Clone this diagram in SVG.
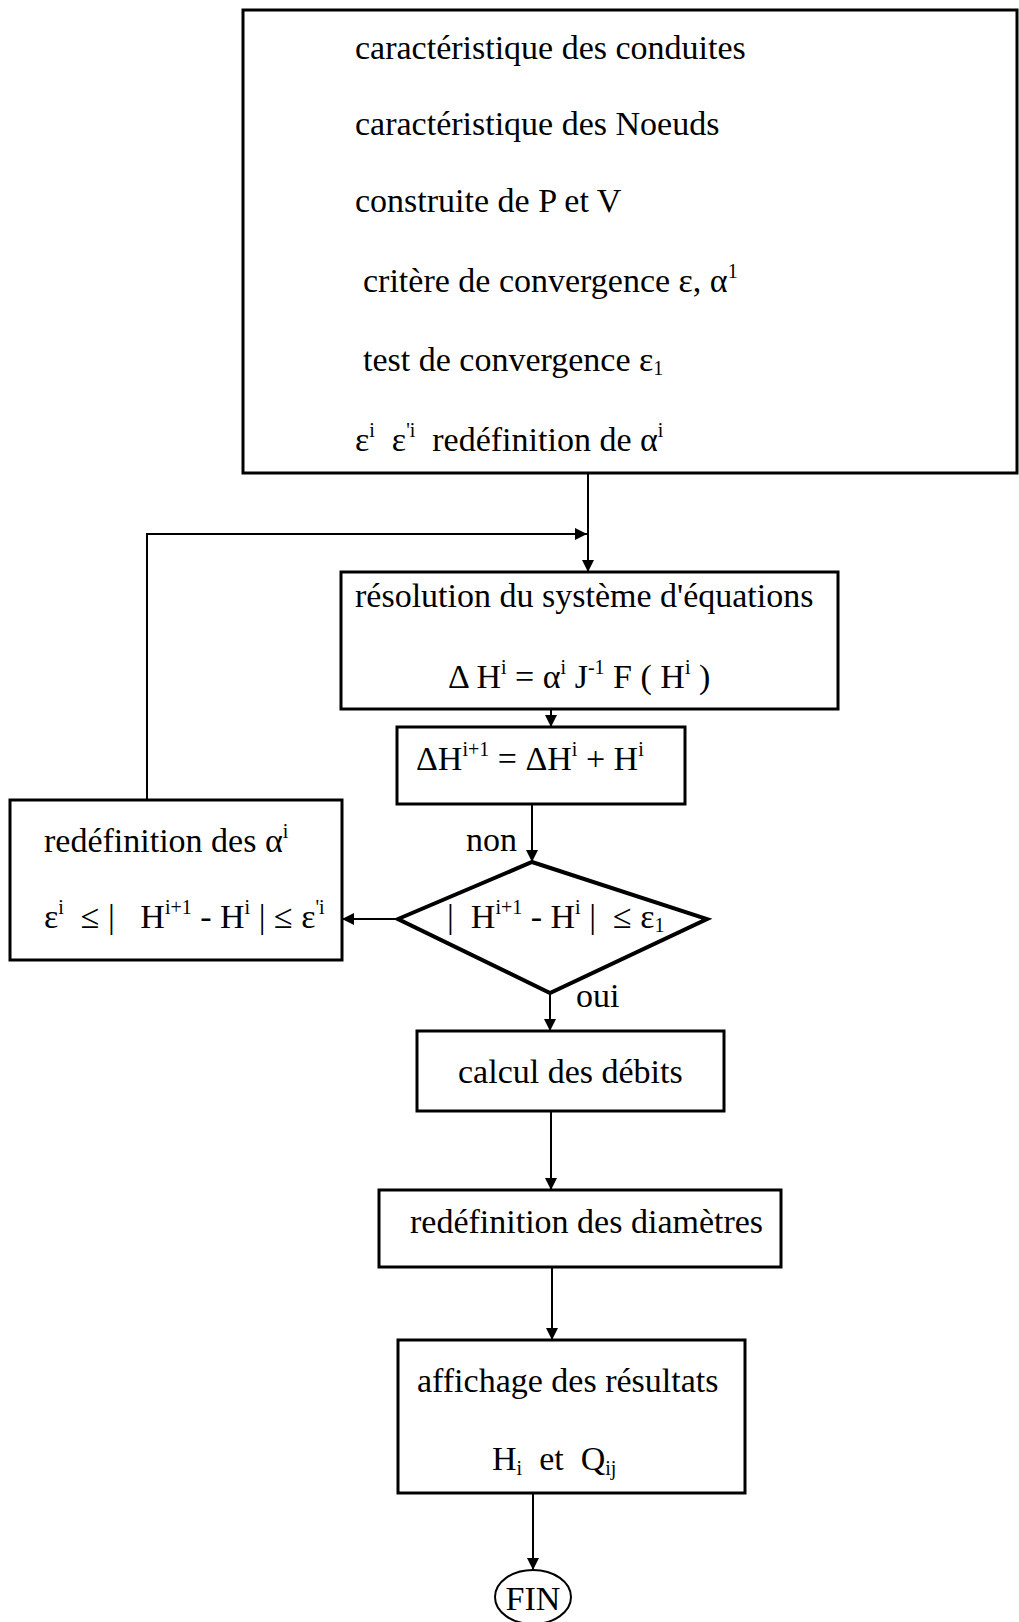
<svg xmlns="http://www.w3.org/2000/svg" width="1019" height="1622" viewBox="0 0 1019 1622">
  <style>
    .box { fill: #ffffff; stroke: #000000; stroke-width: 3; }
    .diamond { fill: #ffffff; stroke: #000000; stroke-width: 4; stroke-linejoin: miter; }
    .conn { fill: none; stroke: #000000; stroke-width: 2; }
    text { font-family: "Liberation Serif", "Times New Roman", serif; font-size: 34px; fill: #000000; white-space: pre; }
    .s { font-size: 20px; }
  </style>
  <defs>
    <marker id="arrow" viewBox="0 0 10 10" refX="10" refY="5" markerUnits="userSpaceOnUse" markerWidth="12" markerHeight="12" orient="auto">
      <path d="M0,0 L10,5 L0,10 z" fill="#000000"/>
    </marker>
  </defs>
  <rect x="0" y="0" width="1019" height="1622" fill="#ffffff"/>

  <!-- connectors -->
  <g id="connectors">
    <path class="conn" d="M588,473 V572" marker-end="url(#arrow)"/>
    <path class="conn" d="M147,800 V534 H587" marker-end="url(#arrow)"/>
    <path class="conn" d="M551,709 V727" marker-end="url(#arrow)"/>
    <path class="conn" d="M532,804 V862" marker-end="url(#arrow)"/>
    <path class="conn" d="M398,919 H342" marker-end="url(#arrow)"/>
    <path class="conn" d="M550,993 V1031" marker-end="url(#arrow)"/>
    <path class="conn" d="M551,1111 V1190" marker-end="url(#arrow)"/>
    <path class="conn" d="M552,1267 V1340" marker-end="url(#arrow)"/>
    <path class="conn" d="M533,1493 V1570" marker-end="url(#arrow)"/>
    <text x="466" y="851">non</text>
    <text x="576" y="1007">oui</text>
  </g>

  <!-- input data block -->
  <g id="donnees">
    <rect class="box" x="243" y="10" width="774" height="463"/>
    <text x="355" y="59">caractéristique des conduites</text>
    <text x="355" y="135">caractéristique des Noeuds</text>
    <text x="355" y="212">construite de P et V</text>
    <text x="363" y="292">critère de convergence ε, α<tspan class="s" dy="-14">1</tspan></text>
    <text x="363" y="371">test de convergence ε<tspan class="s" dy="4">1</tspan></text>
    <text x="355" y="451">ε<tspan class="s" dy="-14">i</tspan><tspan dy="14">  ε</tspan><tspan class="s" dy="-14">'i</tspan><tspan dy="14">  redéfinition de α</tspan><tspan class="s" dy="-14">i</tspan></text>
  </g>

  <!-- system solving -->
  <g id="resolution">
    <rect class="box" x="341" y="572" width="497" height="137"/>
    <text x="355" y="607">résolution du système d'équations</text>
    <text x="448" y="688">Δ H<tspan class="s" dy="-14">i</tspan><tspan dy="14"> = α</tspan><tspan class="s" dy="-14">i</tspan><tspan dy="14"> J</tspan><tspan class="s" dy="-14">-1</tspan><tspan dy="14"> F ( H</tspan><tspan class="s" dy="-14">i</tspan><tspan dy="14"> )</tspan></text>
  </g>

  <!-- update -->
  <g id="mise-a-jour">
    <rect class="box" x="397" y="727" width="288" height="77"/>
    <text x="416" y="770">ΔH<tspan class="s" dy="-14">i+1</tspan><tspan dy="14"> = ΔH</tspan><tspan class="s" dy="-14">i</tspan><tspan dy="14"> + H</tspan><tspan class="s" dy="-14">i</tspan></text>
  </g>

  <!-- convergence test -->
  <g id="test">
    <polygon class="diamond" points="532,862 707,919 550,993 398,919"/>
    <text x="447" y="928">|  H<tspan class="s" dy="-14">i+1</tspan><tspan dy="14"> - H</tspan><tspan class="s" dy="-14">i</tspan><tspan dy="14"> |  ≤ ε</tspan><tspan class="s" dy="4">1</tspan></text>
  </g>

  <!-- relaxation update -->
  <g id="redefinition-alpha">
    <rect class="box" x="10" y="800" width="332" height="160"/>
    <text x="44" y="852">redéfinition des α<tspan class="s" dy="-14">i</tspan></text>
    <text x="44" y="928">ε<tspan class="s" dy="-14">i</tspan><tspan dy="14">  ≤ |   H</tspan><tspan class="s" dy="-14">i+1</tspan><tspan dy="14"> - H</tspan><tspan class="s" dy="-14">i</tspan><tspan dy="14"> | ≤ ε</tspan><tspan class="s" dy="-14">'i</tspan></text>
  </g>

  <!-- flow computation -->
  <g id="debits">
    <rect class="box" x="417" y="1031" width="307" height="80"/>
    <text x="458" y="1083">calcul des débits</text>
  </g>

  <g id="diametres">
    <rect class="box" x="379" y="1190" width="402" height="77"/>
    <text x="410" y="1233">redéfinition des diamètres</text>
  </g>

  <g id="affichage">
    <rect class="box" x="398" y="1340" width="347" height="153"/>
    <text x="417" y="1392">affichage des résultats</text>
    <text x="492" y="1470">H<tspan class="s" dy="5">i</tspan><tspan dy="-5">  et  Q</tspan><tspan class="s" dy="5">ij</tspan></text>
  </g>

  <g id="fin">
    <ellipse cx="533" cy="1597" rx="38" ry="27" fill="#ffffff" stroke="#000000" stroke-width="2"/>
    <text x="533" y="1610" text-anchor="middle">FIN</text>
  </g>
</svg>
